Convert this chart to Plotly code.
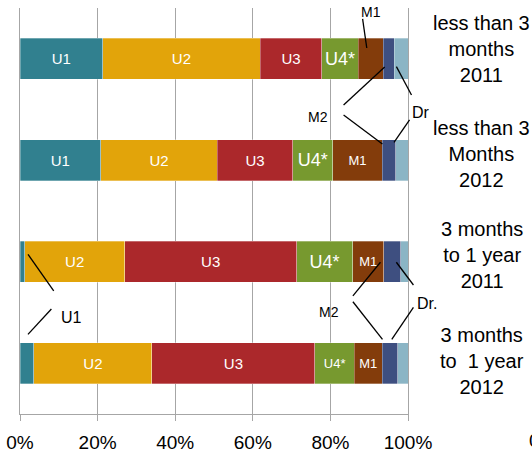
import plotly.graph_objects as go

# ---- data ----
categories = [
    "less than 3<br>months<br>2011",
    "less than 3<br>Months<br>2012",
    "3 months<br>to 1 year<br>2011",
    "3 months<br>to\u00a0 1 year<br>2012",
]
series_names = ["U1", "U2", "U3", "U4*", "M1", "M2", "Dr"]
U1 = [21.3, 20.8, 1.2, 3.6]
U2 = [40.6, 30.1, 25.8, 30.4]
U3 = [15.9, 19.4, 44.3, 42.0]
U4 = [9.4, 10.3, 14.4, 10.2]
M1 = [6.4, 12.8, 8.1, 7.1]
M2 = [2.8, 3.4, 4.3, 4.0]
Dr = [3.6, 3.2, 1.9, 2.7]
values = {"U1": U1, "U2": U2, "U3": U3, "U4*": U4, "M1": M1, "M2": M2, "Dr": Dr}

inside_labels = {
    "U1": ["U1", "U1", "", ""],
    "U2": ["U2", "U2", "U2", "U2"],
    "U3": ["U3", "U3", "U3", "U3"],
    "U4*": ["U4*", "U4*", "U4*", "U4*"],
    "M1": ["", "M1", "M1", "M1"],
    "M2": ["", "", "", ""],
    "Dr": ["", "", "", ""],
}
tick_vals = [0, 20, 40, 60, 80, 100]
tick_text = ["0%", "20%", "40%", "60%", "80%", "100%"]

# ---- styles ----
colors = {"U1": "#31808F", "U2": "#E2A40A", "U3": "#AB282B", "U4*": "#77992F",
          "M1": "#833C0B", "M2": "#3E4F80", "Dr": "#8BB5C5"}
label_sizes = {"U1": [15] * 4, "U2": [15] * 4, "U3": [15] * 4,
               "U4*": [18, 18, 18, 13], "M1": [13] * 4, "M2": [13] * 4, "Dr": [13] * 4}
FONT = "Liberation Sans, Arial, sans-serif"

fig = go.Figure()
for name in series_names:
    fig.add_trace(go.Bar(
        y=list(range(len(categories))), x=values[name], orientation="h", name=name,
        marker=dict(color=colors[name], line=dict(color="rgba(255,255,255,0.6)", width=0.5)),
        text=inside_labels[name], textposition="inside", insidetextanchor="middle",
        textangle=0, constraintext="none",
        textfont=dict(color="white", size=label_sizes[name], family=FONT),
        showlegend=False, hoverinfo="skip",
    ))

XR = [0, 100]
YR = [3.5, -0.5]

def px(x):
    return (x - XR[0]) / (XR[1] - XR[0])

def py(v):
    return (YR[0] - v) / (YR[0] - YR[1])

# cumulative starts of each segment
starts = {}
acc = [0.0] * len(categories)
for name in series_names:
    starts[name] = acc[:]
    acc = [a + b for a, b in zip(acc, values[name])]

# leader lines: (series, bar, frac along segment, dy from bar center, label-end x, label-end y)
leaders = [
    ("M1", 0, 0.34, -0.106, 88.3, -0.392),
    ("M2", 0, 0.14, 0.081, 83.4, 0.456),
    ("M2", 1, 0.0, -0.160, 83.4, 0.554),
    ("Dr", 0, 0.17, 0.078, 100.9, 0.357),
    ("Dr", 1, -0.125, -0.177, 100.4, 0.603),
    ("M2", 2, -0.21, 0.005, 85.8, 2.337),
    ("M2", 3, 0.03, -0.236, 85.8, 2.394),
    ("Dr", 2, -0.58, 0.005, 101.4, 2.229),
    ("M2", 3, 0.63, -0.236, 101.4, 2.449),
    ("U1", 2, 1.72, -0.073, 8.69, 2.288),
    ("U1", 3, 0.57, -0.285, 8.09, 2.466),
]
shapes = []
for s, b, f, dy, lx, ly in leaders:
    tx = starts[s][b] + f * values[s][b]
    ty = b + dy
    shapes.append(dict(type="line", xref="paper", yref="paper",
                       x0=px(tx), y0=py(ty), x1=px(lx), y1=py(ly),
                       line=dict(color="black", width=1.3)))

annotations = []
# outside segment labels
outside = [("M1", 90.4, -0.46, 14), ("M2", 76.7, 0.574, 14), ("Dr", 103.4, 0.525, 16),
           ("M2", 79.6, 2.495, 14), ("Dr.", 104.8, 2.411, 16), ("U1", 13.3, 2.554, 16)]
for t, x, y, sz in outside:
    annotations.append(dict(text=t, x=px(x), y=py(y), xref="paper", yref="paper", showarrow=False,
                            xanchor="center", yanchor="middle",
                            font=dict(size=sz, color="black", family=FONT)))
# category labels on the right
cat_shift = [10, 6, 7, 2.5]
for i, c in enumerate(categories):
    annotations.append(dict(text=c, x=1.19, y=py(i), xref="paper", yref="paper", yshift=cat_shift[i],
                            showarrow=False, align="center", xanchor="center", yanchor="middle",
                            font=dict(size=20, color="black", family=FONT)))
# clipped label from neighbouring chart
annotations.append(dict(text="0%", x=1.306, y=-0.066, xref="paper", yref="paper",
                        xanchor="left", yanchor="middle", showarrow=False,
                        font=dict(size=19, color="black", family=FONT)))

fig.update_layout(
    width=532, height=457,
    margin=dict(l=20, r=124, t=8, b=43, autoexpand=False),
    paper_bgcolor="white", plot_bgcolor="white",
    barmode="stack", bargap=0.6,
    shapes=shapes, annotations=annotations,
    xaxis=dict(range=XR, tickvals=tick_vals, ticktext=tick_text, automargin=False,
               showgrid=True, gridcolor="#A6A6A6", gridwidth=1,
               showline=True, linecolor="#A6A6A6", linewidth=1,
               ticks="outside", ticklen=6, tickcolor="#A6A6A6",
               tickfont=dict(size=19, color="black", family=FONT),
               ticklabelstandoff=5, zeroline=False),
    yaxis=dict(range=YR, showticklabels=False, showgrid=False, zeroline=False, automargin=False,
               showline=True, mirror=True, linecolor="#A6A6A6", linewidth=1, ticks=""),
)
fig.write_html("out.html", config={"displayModeBar": False},
               post_script="document.body.style.margin='0';document.body.style.overflow='hidden';")
